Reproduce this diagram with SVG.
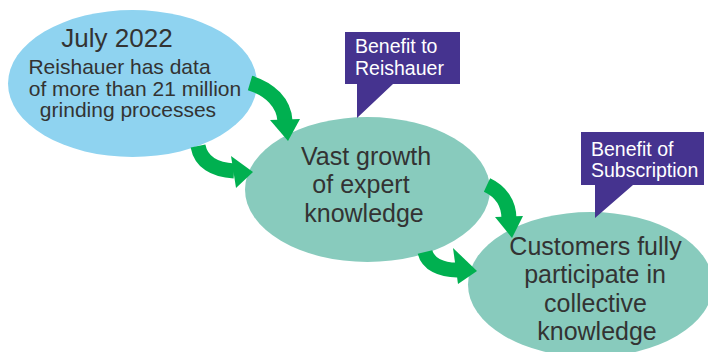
<svg xmlns="http://www.w3.org/2000/svg" width="708" height="352" viewBox="0 0 708 352">
<defs>
<style>
.t{font-family:"Liberation Sans",Arial,sans-serif;fill:#333333;text-anchor:middle}
.c{font-family:"Liberation Sans",Arial,sans-serif;fill:#ffffff;font-size:19.5px}
.blue{fill:#8fd3f0}
.teal{fill:#88cbbd}
.call{fill:#45338f}
.arr{fill:none;stroke:#00b050;stroke-width:15}
.head{fill:#00b050}
</style>
</defs>
<rect width="708" height="352" fill="#ffffff"/>
<g id="node-july2022">
<ellipse class="blue" cx="132.5" cy="83.5" rx="124.5" ry="73.5"/>
<text class="t" x="117" y="47" font-size="26">July 2022</text>
<text class="t" x="119.5" y="74" font-size="21">Reishauer has data</text>
<text class="t" x="135" y="96" font-size="21">of more than 21 million</text>
<text class="t" x="128" y="117" font-size="21">grinding processes</text>
</g>
<g id="node-growth">
<ellipse class="teal" cx="367.5" cy="189.5" rx="122.5" ry="72.5"/>
<text class="t" x="366" y="165" font-size="25">Vast growth</text>
<text class="t" x="361" y="193" font-size="25">of expert</text>
<text class="t" x="364" y="222" font-size="25">knowledge</text>
</g>
<g id="node-customers">
<ellipse class="teal" cx="590.5" cy="284.5" rx="122.5" ry="72.5"/>
<text class="t" x="595.5" y="255" font-size="25">Customers fully</text>
<text class="t" x="595" y="283" font-size="25">participate in</text>
<text class="t" x="595.5" y="312" font-size="25">collective</text>
<text class="t" x="597" y="340" font-size="25">knowledge</text>
</g>
<g id="connectors">
<path class="arr" d="M 250 83 C 270 89 284 103 285 121"/>
<polygon class="head" points="270,120 300,119 288,141"/>
<path class="arr" d="M 198 146 C 201 162 214 170 234 171"/>
<polygon class="head" points="231,156 236,188 253,172"/>
<path class="arr" d="M 487 185 C 500 191 509 203 509 219"/>
<polygon class="head" points="495,217 523,216 512,238"/>
<path class="arr" d="M 425 252 C 428 264 441 270 457 270"/>
<polygon class="head" points="453,248 458,284 477,271"/>
</g>
<g id="callout-reishauer">
<path class="call" d="M 345 32 H 460 V 84 H 393 L 357 118 V 84 H 345 Z"/>
<text class="c" x="355" y="53">Benefit to</text>
<text class="c" x="355" y="75">Reishauer</text>
</g>
<g id="callout-subscription">
<path class="call" d="M 581 132 H 704 V 185 H 633 L 595 218 V 185 H 581 Z"/>
<text class="c" x="591" y="156">Benefit of</text>
<text class="c" x="591" y="177">Subscription</text>
</g>
</svg>
